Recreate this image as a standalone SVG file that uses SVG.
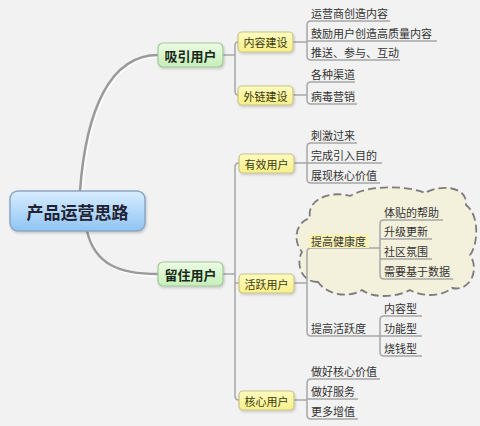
<svg xmlns="http://www.w3.org/2000/svg" width="480" height="426" viewBox="0 0 480 426">
<defs>
<linearGradient id="gBlue" x1="0" y1="0" x2="0" y2="1"><stop offset="0" stop-color="#d9edff"/><stop offset="1" stop-color="#8fc4f3"/></linearGradient>
<linearGradient id="gGreen" x1="0" y1="0" x2="0" y2="1"><stop offset="0" stop-color="#ecfce4"/><stop offset="1" stop-color="#c6eeb8"/></linearGradient>
<linearGradient id="gYellow" x1="0" y1="0" x2="0" y2="1"><stop offset="0" stop-color="#fffcc0"/><stop offset="1" stop-color="#f7ef88"/></linearGradient>
<filter id="sh" x="-10%" y="-10%" width="130%" height="140%"><feDropShadow dx="1" dy="1.5" stdDeviation="1" flood-color="#000" flood-opacity="0.18"/></filter>
</defs>
<style>
text{font-family:"Noto Sans CJK SC","Noto Sans",sans-serif;fill:#333;dominant-baseline:central}
.leaf{font-size:11px}
.sub{font-size:11px;fill:#3a3a10}
.main{font-size:13px;font-weight:bold;fill:#1a2a1a}
.root{font-size:17px;font-weight:bold;fill:#223}
.line{fill:none;stroke:#a6a6a6;stroke-width:1.5}
.trunk{fill:none;stroke:#9a9a9a;stroke-width:2.5;stroke-linecap:round}
.trunkhl{fill:none;stroke:#ffffff;stroke-width:2;opacity:0.8}
.yb{fill:url(#gYellow);stroke:#c8c38a;stroke-width:1.2}
.gb{fill:url(#gGreen);stroke:#a0c898;stroke-width:1.2}
</style>
<rect width="480" height="426" fill="#f2f2f2"/>

<g id="cloud">
<path d="M318,282 C300,282 296,262 302,252 C292,240 296,222 310,218 C306,200 330,190 350,196 C370,184 410,186 425,193 C440,184 468,186 466,205 C480,215 478,245 470,255 C480,270 470,292 452,288 C440,298 420,296 410,290 C395,298 372,298 362,290 C350,298 328,296 318,282 Z" fill="#f3f1db" stroke="#7c7c7c" stroke-width="1.8" stroke-dasharray="8 4"/>
</g>

<g id="connectors">
<path class="trunkhl" d="M82,192 C88,110 112,57 158,57"/>
<path class="trunk" d="M80,191 C86,110 110,55 158,55"/>
<path class="trunkhl" d="M89,232 C97,267 122,276 158,276"/>
<path class="trunk" d="M87,231 C95,265 120,274 158,274"/>
<path class="line" d="M223,55 H235 M238,42 Q235,42 235,46 V91 Q235,95 238,95"/>
<path class="line" d="M293,42 H307 M390,21 H311 Q307,21 307,25 V56 Q307,60 311,60 H400 M307,41 H437"/>
<path class="line" d="M293,95 H307 M355,82 H311 Q307,82 307,86 V100 Q307,104 311,104 H357"/>
<path class="line" d="M223,274 H235 M239,163 Q235,163 235,167 V396 Q235,400 239,400 M235,283 H239"/>
<path class="line" d="M294,163 H307 M357,143 H311 Q307,143 307,147 V179 Q307,183 311,183 H380 M307,163 H382"/>
<path class="line" d="M294,283 H307 M380,248 H311 Q307,248 307,252 V332 Q307,336 311,336 H422"/>
<path class="line" d="M443,220 H384 Q380,220 380,224 V275 Q380,279 384,279 H453 M380,239 H432 M380,259 H432"/>
<path class="line" d="M422,316 H384 Q380,316 380,320 V352 Q380,356 384,356 H422"/>
<path class="line" d="M294,400 H307 M380,379 H311 Q307,379 307,383 V415 Q307,419 311,419 H358 M307,399 H358"/>
</g>

<g id="root"><rect x="10" y="191" width="135" height="40" rx="8" fill="url(#gBlue)" stroke="#8aa7c4" stroke-width="1.5" filter="url(#sh)"/><text class="root" x="77.5" y="211" text-anchor="middle">产品运营思路</text></g>

<g id="n-xiyin"><rect class="gb" x="158" y="43" width="65" height="24" rx="5" filter="url(#sh)"/><text class="main" x="190.5" y="55" text-anchor="middle">吸引用户</text></g>
<g id="n-liuzhu"><rect class="gb" x="158" y="262" width="65" height="24" rx="5" filter="url(#sh)"/><text class="main" x="190.5" y="274" text-anchor="middle">留住用户</text></g>

<g id="n-neirong"><rect class="yb" x="238" y="32" width="55" height="20" rx="4" filter="url(#sh)"/><text class="sub" x="265.5" y="42" text-anchor="middle">内容建设</text></g>
<g id="n-wailian"><rect class="yb" x="238" y="86" width="55" height="19" rx="4" filter="url(#sh)"/><text class="sub" x="265.5" y="95.5" text-anchor="middle">外链建设</text></g>
<g id="n-youxiao"><rect class="yb" x="239" y="154" width="55" height="19" rx="4" filter="url(#sh)"/><text class="sub" x="266.5" y="163.5" text-anchor="middle">有效用户</text></g>
<g id="n-huoyue"><rect class="yb" x="239" y="274" width="55" height="19" rx="4" filter="url(#sh)"/><text class="sub" x="266.5" y="283.5" text-anchor="middle">活跃用户</text></g>
<g id="n-hexin"><rect class="yb" x="239" y="391" width="55" height="19" rx="4" filter="url(#sh)"/><text class="sub" x="266.5" y="400.5" text-anchor="middle">核心用户</text></g>

<g id="l1"><text class="leaf" x="311" y="13">运营商创造内容</text></g>
<g id="l2"><text class="leaf" x="311" y="33">鼓励用户创造高质量内容</text></g>
<g id="l3"><text class="leaf" x="311" y="52">推送、参与、互动</text></g>
<g id="l4"><text class="leaf" x="311" y="74">各种渠道</text></g>
<g id="l5"><text class="leaf" x="311" y="96">病毒营销</text></g>
<g id="l6"><text class="leaf" x="311" y="135">刺激过来</text></g>
<g id="l7"><text class="leaf" x="311" y="155">完成引入目的</text></g>
<g id="l8"><text class="leaf" x="311" y="175">展现核心价值</text></g>
<g id="n-jiankang"><rect x="309" y="234" width="60" height="14" fill="#fbf3b4"/><text class="leaf" x="311" y="241">提高健康度</text></g>
<g id="l9"><text class="leaf" x="384" y="212">体贴的帮助</text></g>
<g id="l10"><text class="leaf" x="384" y="231">升级更新</text></g>
<g id="l11"><text class="leaf" x="384" y="251">社区氛围</text></g>
<g id="l12"><text class="leaf" x="384" y="271">需要基于数据</text></g>
<g id="n-huoyuedu"><text class="leaf" x="311" y="328">提高活跃度</text></g>
<g id="l13"><text class="leaf" x="384" y="308">内容型</text></g>
<g id="l14"><text class="leaf" x="384" y="328">功能型</text></g>
<g id="l15"><text class="leaf" x="384" y="348">烧钱型</text></g>
<g id="l16"><text class="leaf" x="311" y="371">做好核心价值</text></g>
<g id="l17"><text class="leaf" x="311" y="391">做好服务</text></g>
<g id="l18"><text class="leaf" x="311" y="411">更多增值</text></g>
</svg>
